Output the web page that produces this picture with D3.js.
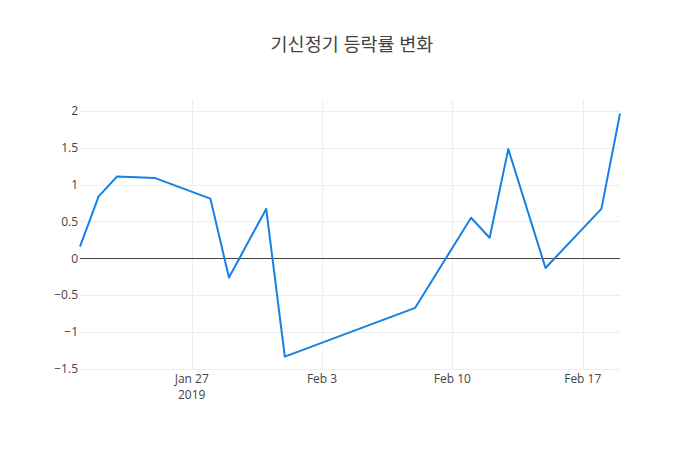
<!DOCTYPE html>
<html><head><meta charset="utf-8">
<script src="https://cdn.jsdelivr.net/npm/d3@7"></script>
<style>body{margin:0;background:#fff}svg{display:block}</style>
</head><body>
<svg id="c" width="700" height="450"></svg>
<script>
const dates = ["2019-01-21","2019-01-22","2019-01-23","2019-01-25","2019-01-28","2019-01-29","2019-01-31","2019-02-01","2019-02-08","2019-02-11","2019-02-12","2019-02-13","2019-02-15","2019-02-18","2019-02-19"];
const values = [0.16,0.84,1.11,1.09,0.81,-0.26,0.67,-1.33,-0.67,0.55,0.28,1.48,-0.13,0.67,1.96];
const yTicks = [-1.5,-1,-0.5,0,0.5,1,1.5,2];
const xTickDates = ["2019-01-27","2019-02-03","2019-02-10","2019-02-17"];
const xTickLabels = ["Jan 27","Feb 3","Feb 10","Feb 17"];
const yearLabel = "2019";
const title = "기신정기 등락률 변화";

const parse = d3.timeParse("%Y-%m-%d");
const data = dates.map((d,i)=>({x:parse(d), y:values[i]}));
const svg = d3.select("#c");
const L=80,R=620,T=100,B=370;
const font = "'Open Sans', 'Noto Sans CJK KR', sans-serif";
const x = d3.scaleTime().domain(d3.extent(data,d=>d.x)).range([L,R]);
const y = d3.scaleLinear().domain([-1.512,2.145]).range([B,T]);

// grid
const g = svg.append("g");
g.selectAll(".vg").data(xTickDates.map(parse)).enter().append("line")
  .attr("x1",d=>Math.round(x(d))+0.5).attr("x2",d=>Math.round(x(d))+0.5)
  .attr("y1",T).attr("y2",B).attr("stroke","#eee").attr("stroke-width",1);
g.selectAll(".hg").data(yTicks.filter(v=>v!==0)).enter().append("line")
  .attr("x1",L).attr("x2",R)
  .attr("y1",d=>Math.round(y(d))+0.5).attr("y2",d=>Math.round(y(d))+0.5)
  .attr("stroke","#eee").attr("stroke-width",1);
g.append("line").attr("x1",L).attr("x2",R)
  .attr("y1",Math.round(y(0))+0.5).attr("y2",Math.round(y(0))+0.5)
  .attr("stroke","#444").attr("stroke-width",1);

// y tick labels
svg.append("g").selectAll("text").data(yTicks).enter().append("text")
  .attr("x",L-2).attr("y",d=>y(d)).attr("dy","0.35em")
  .attr("text-anchor","end").attr("font-family",font).attr("font-size",12).attr("fill","#444")
  .text(d=>d3.format("")(d).replace("-","\u2212"));

// x tick labels
const xd = xTickDates.map(parse);
svg.append("g").selectAll("text").data(xd).enter().append("text")
  .attr("x",d=>x(d)).attr("y",B+12.5)
  .attr("text-anchor","middle").attr("font-family",font).attr("font-size",12).attr("fill","#444")
  .text((d,i)=>xTickLabels[i]);
svg.append("text").attr("x",x(xd[0])).attr("y",B+28.5)
  .attr("text-anchor","middle").attr("font-family",font).attr("font-size",12).attr("fill","#444")
  .text(yearLabel);

// line
svg.append("path").datum(data)
  .attr("d",d3.line().x(d=>x(d.x)).y(d=>y(d.y)))
  .attr("fill","none").attr("stroke","#1580e6").attr("stroke-width",2).attr("stroke-linejoin","round");

// title
svg.append("text").attr("x",352).attr("y",51).attr("text-anchor","middle")
  .attr("font-family",font).attr("font-size",18.5).attr("fill","#444").text(title);
</script>
</body></html>
